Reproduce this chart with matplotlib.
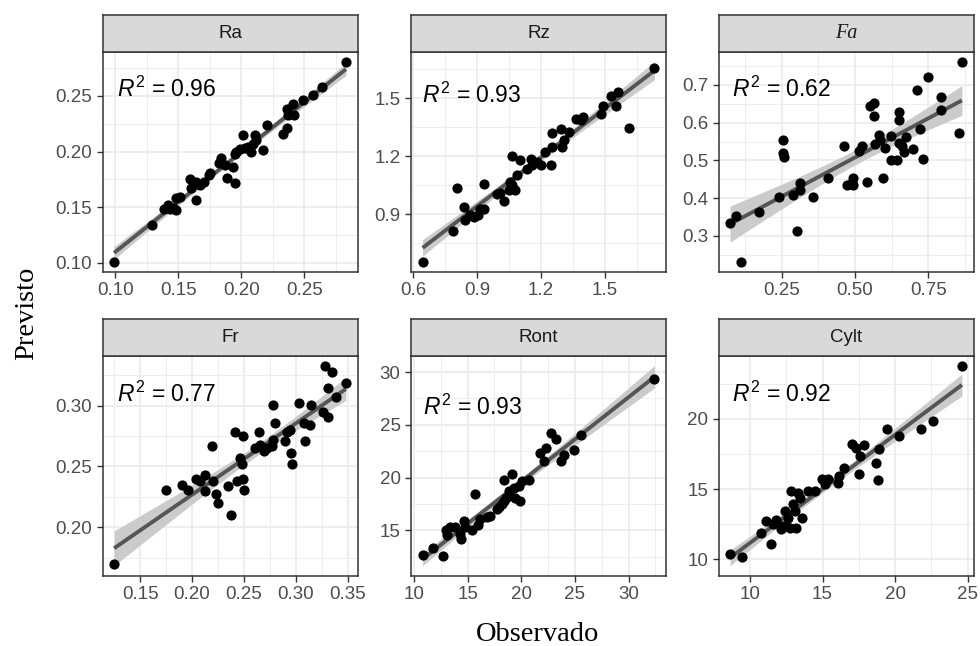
import numpy as np
import matplotlib
matplotlib.use('Agg')
from matplotlib import pyplot as plt
from matplotlib.ticker import FixedLocator, FixedFormatter

plt.rcParams['font.family'] = ['Liberation Sans', 'DejaVu Sans']
plt.rcParams['mathtext.fontset'] = 'custom'
plt.rcParams['mathtext.rm'] = 'Liberation Sans'
plt.rcParams['mathtext.it'] = 'Liberation Sans:italic'

ra_obs = [0.099, 0.129, 0.139, 0.142, 0.143, 0.146, 0.148, 0.148, 0.151, 0.159,
          0.160, 0.164, 0.164, 0.167, 0.170, 0.174, 0.175, 0.182, 0.184, 0.187,
          0.189, 0.193, 0.195, 0.195, 0.196, 0.199, 0.201, 0.203, 0.205, 0.208,
          0.209, 0.211, 0.212, 0.217, 0.220, 0.233, 0.236, 0.236, 0.237, 0.241,
          0.242, 0.249, 0.257, 0.264, 0.283]
ra_pred = [0.101, 0.134, 0.148, 0.152, 0.148, 0.149, 0.147, 0.158, 0.159, 0.175,
           0.167, 0.156, 0.173, 0.170, 0.173, 0.179, 0.181, 0.190, 0.194, 0.188,
           0.176, 0.186, 0.172, 0.198, 0.200, 0.202, 0.215, 0.203, 0.204, 0.200,
           0.207, 0.215, 0.210, 0.201, 0.224, 0.216, 0.221, 0.238, 0.233, 0.243,
           0.233, 0.246, 0.251, 0.258, 0.281]

rz_obs = [0.644, 0.788, 0.804, 0.840, 0.843, 0.867, 0.883, 0.906, 0.914, 0.930,
          0.933, 0.993, 1.008, 1.024, 1.048, 1.055, 1.063, 1.079, 1.087, 1.063,
          1.103, 1.134, 1.150, 1.158, 1.181, 1.197, 1.220, 1.244, 1.252, 1.252,
          1.291, 1.299, 1.307, 1.330, 1.362, 1.385, 1.398, 1.480, 1.488, 1.527,
          1.558, 1.550, 1.613, 1.731]
rz_pred = [0.657, 0.815, 1.037, 0.939, 0.871, 0.897, 0.888, 0.897, 0.926, 0.926,
           1.059, 1.004, 1.008, 0.970, 1.025, 1.068, 1.050, 1.025, 1.102, 1.199,
           1.179, 1.136, 1.187, 1.153, 1.170, 1.153, 1.221, 1.153, 1.247, 1.319,
           1.341, 1.247, 1.281, 1.324, 1.392, 1.387, 1.404, 1.418, 1.461, 1.512,
           1.529, 1.461, 1.346, 1.657]

fa_obs = [0.074, 0.094, 0.110, 0.174, 0.240, 0.256, 0.256, 0.258, 0.288, 0.301,
          0.313, 0.313, 0.356, 0.409, 0.463, 0.472, 0.489, 0.492, 0.494, 0.515,
          0.523, 0.540, 0.552, 0.563, 0.565, 0.568, 0.580, 0.585, 0.594, 0.602,
          0.622, 0.622, 0.644, 0.648, 0.651, 0.651, 0.659, 0.665, 0.674, 0.699,
          0.710, 0.722, 0.733, 0.750, 0.792, 0.792, 0.853, 0.864]
fa_pred = [0.335, 0.353, 0.232, 0.362, 0.404, 0.554, 0.519, 0.510, 0.409, 0.314,
           0.441, 0.422, 0.402, 0.453, 0.537, 0.435, 0.439, 0.453, 0.435, 0.526,
           0.537, 0.444, 0.644, 0.618, 0.651, 0.544, 0.567, 0.554, 0.453, 0.532,
           0.565, 0.501, 0.501, 0.607, 0.627, 0.545, 0.537, 0.523, 0.561, 0.529,
           0.687, 0.582, 0.503, 0.722, 0.669, 0.634, 0.572, 0.762]

fr_obs = [0.125, 0.175, 0.190, 0.196, 0.204, 0.208, 0.212, 0.212, 0.219, 0.220,
          0.223, 0.225, 0.235, 0.237, 0.241, 0.243, 0.246, 0.248, 0.249, 0.249,
          0.250, 0.261, 0.264, 0.265, 0.269, 0.272, 0.277, 0.278, 0.278, 0.280,
          0.289, 0.291, 0.294, 0.295, 0.296, 0.303, 0.308, 0.309, 0.313, 0.314,
          0.326, 0.331, 0.331, 0.338, 0.328, 0.335, 0.348]
fr_pred = [0.170, 0.231, 0.235, 0.231, 0.240, 0.238, 0.230, 0.243, 0.267, 0.238,
           0.227, 0.220, 0.234, 0.210, 0.278, 0.238, 0.257, 0.252, 0.275, 0.240,
           0.231, 0.265, 0.278, 0.268, 0.263, 0.265, 0.267, 0.301, 0.272, 0.286,
           0.271, 0.278, 0.280, 0.261, 0.252, 0.302, 0.286, 0.271, 0.284, 0.301,
           0.295, 0.291, 0.315, 0.307, 0.333, 0.328, 0.319]

ront_obs = [10.81, 11.75, 12.74, 12.99, 13.12, 13.37, 13.84, 14.30, 14.40, 14.62,
            14.77, 15.40, 15.71, 15.93, 16.18, 16.80, 17.11, 17.74, 17.89, 18.20,
            18.36, 18.42, 18.61, 18.83, 19.14, 19.30, 19.45, 19.76, 19.92, 20.07,
            20.70, 21.79, 22.10, 22.35, 22.73, 23.19, 23.66, 23.97, 24.91, 25.53,
            32.40]
ront_pred = [12.67, 13.29, 12.57, 15.00, 14.53, 15.31, 15.31, 14.69, 14.22, 15.93,
             15.37, 15.00, 18.48, 15.56, 16.09, 16.31, 16.40, 17.02, 17.24, 17.49,
             19.73, 17.80, 18.11, 18.73, 20.35, 19.04, 18.11, 19.20, 17.80, 19.67,
             19.82, 22.31, 21.60, 22.84, 24.27, 23.65, 21.60, 22.16, 22.62, 24.02,
             29.30]

cylt_obs = [8.63, 9.43, 10.73, 11.10, 11.42, 11.60, 11.78, 12.17, 12.28, 12.40,
            12.51, 12.63, 12.74, 12.85, 12.97, 13.08, 13.20, 13.31, 13.42, 13.61,
            14.00, 14.45, 14.98, 15.14, 15.37, 16.05, 16.16, 16.51, 17.03, 17.31,
            17.49, 17.58, 17.88, 18.68, 18.79, 18.90, 19.41, 20.27, 21.76, 22.60,
            24.60]
cylt_pred = [10.40, 10.17, 11.90, 12.73, 11.11, 12.49, 12.77, 12.13, 12.37, 13.44,
             12.37, 12.96, 12.25, 14.86, 13.91, 13.44, 12.25, 14.74, 14.38, 12.91,
             14.86, 14.86, 15.69, 15.33, 15.69, 15.45, 15.92, 16.52, 18.22, 17.94,
             16.04, 17.35, 18.13, 16.87, 15.62, 17.89, 19.31, 18.77, 19.31, 19.88,
             23.80]

r2_labels = ['0.96', '0.93', '0.62', '0.77', '0.93', '0.92']
names = ['Ra', 'Rz', 'Fa', 'Fr', 'Ront', 'Cylt']

ra_xt, ra_yt = [0.10, 0.15, 0.20, 0.25], [0.10, 0.15, 0.20, 0.25]
rz_xt, rz_yt = [0.6, 0.9, 1.2, 1.5], [0.9, 1.2, 1.5]
fa_xt, fa_yt = [0.25, 0.50, 0.75], [0.3, 0.4, 0.5, 0.6, 0.7]
fr_xt, fr_yt = [0.15, 0.20, 0.25, 0.30, 0.35], [0.20, 0.25, 0.30]
ront_xt, ront_yt = [10, 15, 20, 25, 30], [15, 20, 25, 30]
cylt_xt, cylt_yt = [10, 15, 20, 25], [10, 15, 20]

panels = [
    (ra_obs, ra_pred, ra_xt, ra_yt, '%.2f', '%.2f', (0.056, 0.795)),
    (rz_obs, rz_pred, rz_xt, rz_yt, '%.1f', '%.1f', (0.045, 0.768)),
    (fa_obs, fa_pred, fa_xt, fa_yt, '%.2f', '%.1f', (0.052, 0.795)),
    (fr_obs, fr_pred, fr_xt, fr_yt, '%.2f', '%.2f', (0.056, 0.790)),
    (ront_obs, ront_pred, ront_xt, ront_yt, '%d', '%d', (0.048, 0.733)),
    (cylt_obs, cylt_pred, cylt_xt, cylt_yt, '%d', '%d', (0.052, 0.790)),
]

W, H = 980, 646
fig = plt.figure(figsize=(W / 100, H / 100), dpi=100)

col_left = [102.5, 411.0, 718.5]
row_top = [51.5, 355.7]
pw, ph, sh = 255.0, 220.0, 37.0


def minor_of(ticks):
    step = ticks[1] - ticks[0]
    return [ticks[0] - step / 2] + [t + step / 2 for t in ticks]


for i, (xo, yp, xt, yt, xf, yf, lab) in enumerate(panels):
    r, c = divmod(i, 3)
    left, top = col_left[c], row_top[r]
    ax = fig.add_axes([left / W, 1 - (top + ph) / H, pw / W, ph / H])
    x = np.array(xo)
    y = np.array(yp)

    # linear fit + 95% confidence band, as geom_smooth(method='lm')
    n = len(x)
    b1, b0 = np.polyfit(x, y, 1)
    xs = np.linspace(x.min(), x.max(), 100)
    ys = b0 + b1 * xs
    s = np.sqrt(np.sum((y - (b0 + b1 * x)) ** 2) / (n - 2))
    se = s * np.sqrt(1 / n + (xs - x.mean()) ** 2 / np.sum((x - x.mean()) ** 2))
    t = 2.015
    ax.fill_between(xs, ys - t * se, ys + t * se, color='#CBCBCB', lw=0, zorder=2)
    ax.plot(xs, ys, color='#555555', lw=2.8, zorder=3, solid_capstyle='butt')
    ax.scatter(x, y, s=54, color='black', zorder=4, linewidths=0)

    ax.margins(0.05)
    ax.xaxis.set_major_locator(FixedLocator(xt))
    ax.xaxis.set_major_formatter(FixedFormatter([xf % v for v in xt]))
    ax.yaxis.set_major_locator(FixedLocator(yt))
    ax.yaxis.set_major_formatter(FixedFormatter([yf % v for v in yt]))
    ax.xaxis.set_minor_locator(FixedLocator(minor_of(xt)))
    ax.yaxis.set_minor_locator(FixedLocator(minor_of(yt)))
    ax.grid(which='major', color='#EBEBEB', lw=1.2, zorder=0)
    ax.grid(which='minor', color='#EBEBEB', lw=0.6, zorder=0)
    ax.set_axisbelow(True)
    ax.tick_params(which='major', length=4, width=1.0, color='#333333',
                   labelsize=13.5, labelcolor='#4D4D4D', pad=3.5)
    ax.tick_params(which='minor', length=0)
    for sp in ax.spines.values():
        sp.set_color('#333333')
        sp.set_linewidth(1.1)

    ax.text(lab[0], lab[1], r'$R^2$ = ' + r2_labels[i], transform=ax.transAxes,
            fontsize=16.5, color='black', ha='left', va='baseline', zorder=5)

    # facet strip
    sax = fig.add_axes([left / W, 1 - top / H, pw / W, sh / H])
    sax.set_facecolor('#D9D9D9')
    sax.set_xticks([])
    sax.set_yticks([])
    for sp in sax.spines.values():
        sp.set_color('#333333')
        sp.set_linewidth(1.1)
    if names[i] == 'Fa':
        sax.text(0.5, 0.5, names[i], ha='center', va='center', fontsize=14.5,
                 family='Liberation Serif', style='italic', color='#1A1A1A')
    else:
        sax.text(0.5, 0.5, names[i], ha='center', va='center', fontsize=13.5,
                 color='#1A1A1A')

fig.text(538 / W, 1 - 641 / H, 'Observado', ha='center', va='baseline',
         family='Liberation Serif', fontsize=20.5)
fig.text(27 / W, 1 - 313 / H, 'Previsto', ha='center', va='center',
         rotation=90, family='Liberation Serif', fontsize=20.5)

fig.savefig('out.png', dpi=100)
